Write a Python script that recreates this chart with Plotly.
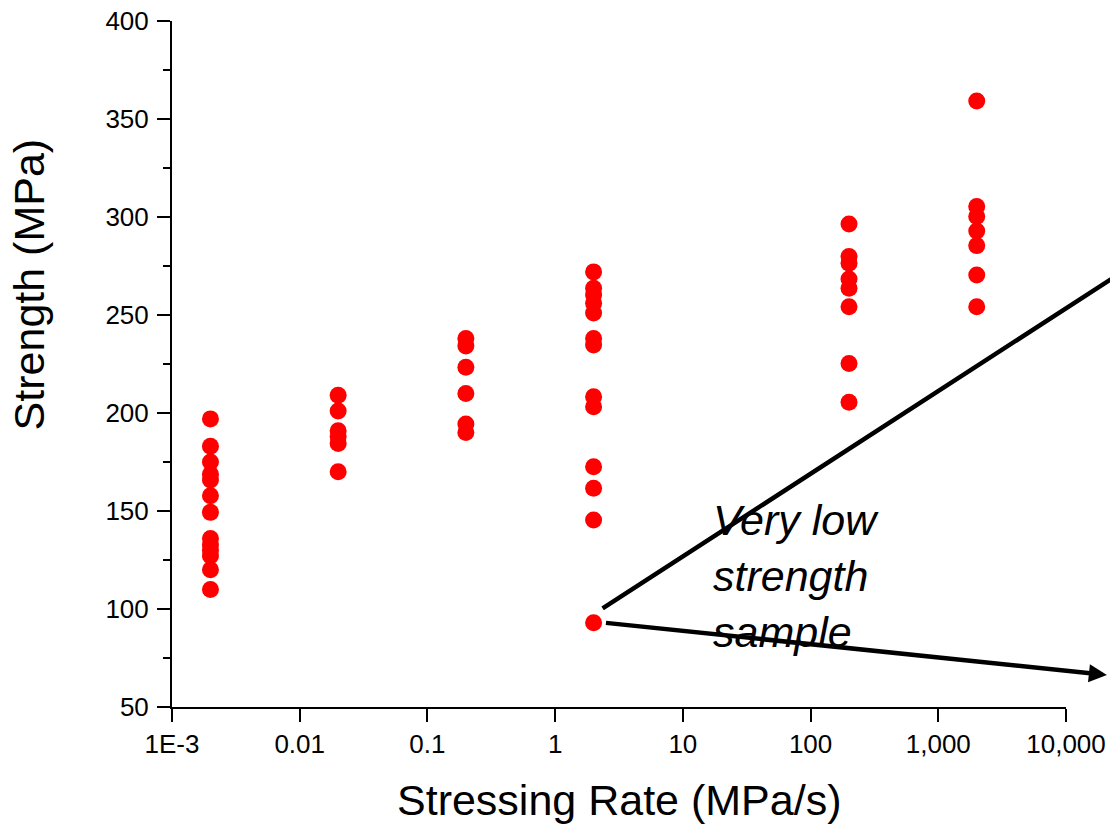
import plotly.graph_objects as go

# stressing rate groups (MPa/s) and measured strengths (MPa)
rate_groups = [0.002, 0.02, 0.2, 2, 200, 2000]
strength_groups = [
    [197, 183, 175, 168.7, 165.8, 157.8, 149.3, 136, 132.7, 130, 127, 120, 110],
    [209, 201, 191, 188, 184.5, 170],
    [238, 234.2, 223.3, 210, 194.4, 190],
    [272, 263.6, 260.2, 256, 251, 238, 234.7, 208.3, 203.2, 172.6, 161.6, 145.4, 93],
    [296.4, 279.8, 276.4, 268.4, 263.6, 254.2, 225.3, 205.5],
    [359.2, 305.3, 300.2, 292.9, 285.4, 270.4, 254.2],
]

x_tickvals = [0.001, 0.01, 0.1, 1, 10, 100, 1000, 10000]
x_ticktext = ["1E-3", "0.01", "0.1", "1", "10", "100", "1,000", "10,000"]

rates = []
strengths = []
for r, vals in zip(rate_groups, strength_groups):
    rates += [r] * len(vals)
    strengths += vals

FONT = "Liberation Sans, Arial, sans-serif"

fig = go.Figure()
fig.add_trace(go.Scatter(
    x=rates, y=strengths, mode="markers",
    marker=dict(size=17, color="#ff0000", line=dict(width=0)),
    showlegend=False,
))

axis_style = dict(
    showline=True, linecolor="black", linewidth=2,
    ticks="outside", ticklen=13, tickwidth=2, tickcolor="black",
    showgrid=False, zeroline=False, automargin=False,
    ticklabeloverflow="allow",
    tickfont=dict(family=FONT, size=26, color="black"),
)

fig.update_xaxes(type="log", range=[-3, 4], tickvals=x_tickvals,
                 ticktext=x_ticktext, **axis_style)
fig.update_yaxes(range=[50, 400], dtick=50, ticklabelstandoff=3,
                 minor=dict(dtick=25, ticks="outside", ticklen=7,
                            tickwidth=2, tickcolor="black"),
                 **axis_style)

# axis titles
fig.add_annotation(text="Stressing Rate (MPa/s)", xref="paper", yref="paper",
                   x=0.5, y=-0.136, xanchor="center", yanchor="middle",
                   showarrow=False, font=dict(family=FONT, size=43, color="black"))
fig.add_annotation(text="Strength (MPa)", xref="paper", yref="paper",
                   x=-0.16, y=0.616, xanchor="center", yanchor="middle",
                   textangle=-90, showarrow=False,
                   font=dict(family=FONT, size=43, color="black"))

# callout for the low strength sample (log10 x for log axis)
fig.add_annotation(x=4.5, y=274.5, ax=0.36, ay=99.8, xref="x", yref="y",
                   axref="x", ayref="y", text="", showarrow=True,
                   arrowhead=0, arrowwidth=4.5, arrowcolor="black")
fig.add_annotation(x=4.32, y=66.3, ax=0.386, ay=93.0, xref="x", yref="y",
                   axref="x", ayref="y", text="", showarrow=True,
                   arrowhead=2, arrowsize=0.8, arrowwidth=4.5, arrowcolor="black")
fig.add_annotation(text="<i>Very low<br>strength<br>sample</i>",
                   xref="paper", yref="paper", x=(711 - 172) / 894,
                   y=(707 - 576) / 686, xanchor="left", yanchor="middle",
                   align="left", showarrow=False,
                   font=dict(family=FONT, size=43, color="black"))

fig.update_layout(
    width=1110, height=829,
    margin=dict(l=172, r=44, t=21, b=122),
    plot_bgcolor="white", paper_bgcolor="white",
)

# drop the default 8px page margin so the figure fills the window
fig.write_html("out.html", config={"displayModeBar": False},
               post_script="document.body.style.margin = '0';")
